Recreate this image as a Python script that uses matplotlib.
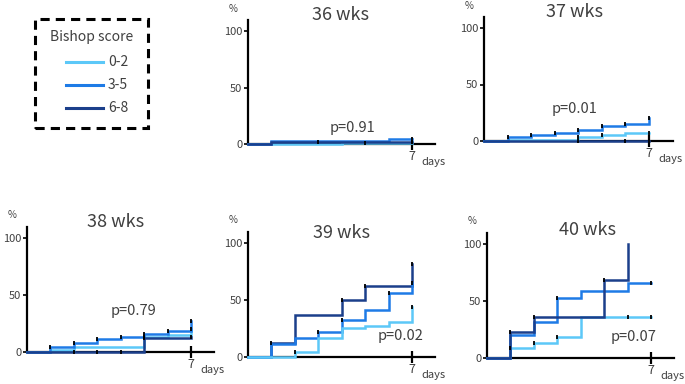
import matplotlib
matplotlib.use("Agg")
import matplotlib.pyplot as plt
from matplotlib.patches import Rectangle
from matplotlib.lines import Line2D

plt.rcParams['font.family'] = ['Noto Sans CJK JP', 'DejaVu Sans']

# ---------------- data ----------------
days = [0, 1, 2, 3, 4, 5, 6, 7]
groups = ["0-2", "3-5", "6-8"]
titles = ["36 wks", "37 wks", "38 wks", "39 wks", "40 wks"]
pvalues = ["p=0.91", "p=0.01", "p=0.79", "p=0.02", "p=0.07"]

w36_low = [0, 0, 0, 0, 1, 1, 1, 1.5]
w36_mid = [0, 2.5, 2.5, 2.5, 2.5, 2.5, 4.5, 4.5]
w36_high = [0, 1.5, 1.5, 1.5, 1.5, 1.5, 1.5, 1.5]

w37_low = [0, 1, 1, 1, 3.5, 5, 6.8, 6.8]
w37_mid = [0, 3.8, 5.6, 7.4, 10, 13, 15.3, 20]
w37_high = [0, 0, 0, 0, 0, 0, 0, 0]

w38_low = [0, 1.5, 4.7, 4.7, 4.7, 12.8, 14.5, 20]
w38_mid = [0, 4, 8, 11.4, 13.5, 15.8, 18.7, 27]
w38_high = [0, 0, 0, 0, 0, 12.3, 12.3, 13]

w39_low = [0, 0, 4, 16.7, 25.4, 27, 31, 44]
w39_mid = [0, 11.7, 17, 21.6, 32.7, 41.5, 56, 65]
w39_high = [0, 12.3, 37, 37, 50, 62, 62, 82]

w40_low = [0, 8.8, 13, 18.4, 36, 36, 36, 36]
w40_mid = [0, 20, 32, 53, 58.5, 58.5, 66, 66]
w40_high = [0, 22.5, 35.7, 35.7, 35.7, 68, 100]

# censoring tick marks (days) per series
m36 = ([5, 7], [7], [3, 7])
m37 = ([4, 5, 7], [1, 2, 3, 4, 5, 6, 7], [4, 6, 7])
m38 = ([5, 7], [1, 2, 3, 4, 5, 6, 7], [2, 3, 4, 5, 7])
m39 = ([2, 7], [3, 4, 6, 7], [1, 4, 5, 7])
m40 = ([1, 2, 3, 6, 7], [3, 7], [1, 2, 5])

series = [(w36_low, w36_mid, w36_high), (w37_low, w37_mid, w37_high),
          (w38_low, w38_mid, w38_high), (w39_low, w39_mid, w39_high),
          (w40_low, w40_mid, w40_high)]
marks = [m36, m37, m38, m39, m40]

colors = ["#5CC8F8", "#1E7BE6", "#1B3F8B"]
txt = "#404040"

# ---------------- layout ----------------
W, H = 685, 384
fig = plt.figure(figsize=(W / 100, H / 100), dpi=100)

# (x at day0, x at day7, y at 0%, y at 100%) in pixels
geo = [(248, 412, 144, 31), (484, 649, 141, 28), (27, 191, 352, 238),
       (248, 412, 357, 243), (487, 651, 358, 244)]
title_pos = [(3.93, 114), (3.86, 114), (3.8, 114), (4.0, 109), (4.3, 112)]
p_pos = [(4.48, 14), (3.86, 28), (4.53, 36), (6.5, 18), (6.24, 18)]

for i, (x0, x7, y0, y100) in enumerate(geo):
    pxd = (x7 - x0) / 7
    ppc = (y0 - y100) / 100
    left = x0 / W
    width = 8 * pxd / W
    bottom = 1 - y0 / H
    height = 110 * ppc / H
    ax = fig.add_axes([left, bottom, width, height])
    ax.set_xlim(0, 8)
    ax.set_ylim(0, 110)
    for s in ["top", "right"]:
        ax.spines[s].set_visible(False)
    for s in ["left", "bottom"]:
        ax.spines[s].set_linewidth(1.6)
        ax.spines[s].set_color("black")
    ax.set_xticks([7])
    ax.set_xticklabels(["7"])
    ax.set_yticks([0, 50, 100])
    ax.tick_params(axis="x", direction="inout", length=8, width=1.6,
                   labelsize=9, labelcolor=txt, pad=0.5)
    ax.tick_params(axis="y", direction="out", length=3, width=1.2,
                   labelsize=8, labelcolor=txt, pad=1)
    ax.patch.set_alpha(0)

    for k in range(3):
        vals = series[i][k]
        xs = days[:len(vals)]
        ax.plot(xs, vals, drawstyle="steps-post", color=colors[k],
                lw=1.8, solid_joinstyle="miter",
                zorder=3 + k * 0.1 if i != 3 else 3 + (2 - k) * 0.1,
                clip_on=False)
        md = marks[i][k]
        ax.plot(md, [vals[d] for d in md], ls="none", marker="|",
                color="black", ms=3.5, mew=1.3, zorder=5, clip_on=False)

    ax.text(title_pos[i][0], title_pos[i][1], titles[i], ha="center",
            va="center", fontsize=13, color=txt, clip_on=False)
    ax.text(p_pos[i][0], p_pos[i][1], pvalues[i], ha="center", va="center",
            fontsize=10.5, color=txt)
    ax.annotate("%", xy=(0, 1), xycoords="axes fraction", xytext=(-11, 8),
                textcoords="offset points", ha="center", va="center",
                fontsize=7, color=txt)
    ax.annotate("days", xy=(7, 0), xycoords="data", xytext=(15.5, -13),
                textcoords="offset points", ha="center", va="center",
                fontsize=8, color=txt)

# ---------------- legend ----------------
def fx(px):
    return px / W

def fy(py):
    return 1 - py / H

fig.patches.append(Rectangle((fx(35), fy(128)), fx(148) - fx(35),
                             fy(19) - fy(128), transform=fig.transFigure,
                             fill=False, ec="black", lw=2.2,
                             ls=(0, (3, 2))))
fig.text(fx(92), fy(37), "Bishop score", ha="center", va="center",
         fontsize=10, color=txt)
for k, (g, yy) in enumerate(zip(groups, [62, 85, 108])):
    fig.lines.append(Line2D([fx(66), fx(103)], [fy(yy), fy(yy)],
                            transform=fig.transFigure, color=colors[k], lw=2.2))
    fig.text(fx(108), fy(yy), g, ha="left", va="center", fontsize=10,
             color=txt)

fig.savefig("out.png", dpi=100)
